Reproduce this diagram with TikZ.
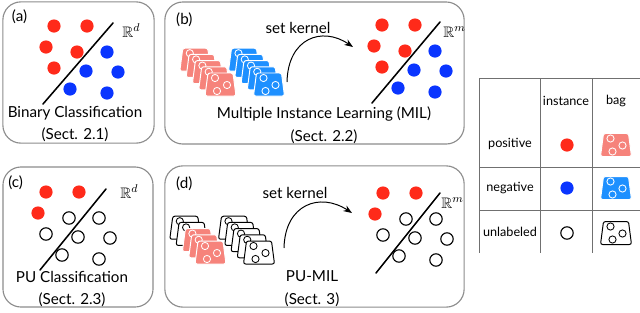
\documentclass[tikz,border=0pt]{standalone}
\usepackage{amssymb}
\usepackage{fontspec}
\setmainfont{Lato}
\usetikzlibrary{arrows.meta,positioning}
\definecolor{posred}{HTML}{FF2A1A}
\definecolor{negblue}{HTML}{0A35FF}
\definecolor{posbag}{HTML}{F6837B}
\definecolor{negbag}{HTML}{1E90FF}
\definecolor{framegray}{HTML}{8C8C8C}
\definecolor{tablegray}{HTML}{707070}

% one bag: centre, fill, edge colour
\newcommand{\drawbag}[3]{%
  \begin{scope}[shift={#1}]
    \draw[fill=#2, draw=#3, line width=0.7pt, rounded corners=1.5pt]
      (-12.5,-11.5) -- (12.5,-11.5) -- (15.5,11.5) -- (-15.5,11.5) -- cycle;
    \foreach \cx/\cy in {-5.5/-6.5, 6.5/0.5, -3.5/6.5}
      \draw[draw=#3, line width=0.6pt] (\cx,\cy) circle[radius=0.09cm];
  \end{scope}}

\begin{document}
\begin{tikzpicture}[
    x=0.025cm, y=-0.025cm,
    >=Stealth,
    font=\fontsize{10.8}{13}\selectfont,
    panel/.style={draw=framegray, line width=0.8pt, rounded corners=0.45cm},
    posdot/.style={circle, fill=posred, minimum size=0.33cm, inner sep=0pt},
    negdot/.style={circle, fill=negblue, minimum size=0.33cm, inner sep=0pt},
    unldot/.style={circle, draw=black, line width=0.8pt, fill=white,
        minimum size=0.31cm, inner sep=0pt},
    sepline/.style={line width=1.1pt, line cap=round},
    kernarrow/.style={->, line width=0.7pt},
    tabline/.style={draw=tablegray, line width=0.7pt},
    tabtext/.style={font=\fontsize{9}{11}\selectfont},
]
\useasboundingbox (0,0) rectangle (640,312);

% =====================================================
% Panels
% =====================================================
\node[panel, minimum width=3.78cm, minimum height=3.53cm] (pa) at (78.5,72.5) {};
\node[panel, minimum width=7.48cm, minimum height=3.55cm] (pb) at (314.5,73) {};
\node[panel, minimum width=3.75cm, minimum height=3.50cm] (pc) at (78,237) {};
\node[panel, minimum width=7.48cm, minimum height=3.53cm] (pd) at (314.5,236.5) {};

\node (taga) at ([xshift=0.43cm, yshift=-0.38cm]pa.north west) {(a)};
\node (tagb) at ([xshift=0.50cm, yshift=-0.45cm]pb.north west) {(b)};
\node (tagc) at ([xshift=0.33cm, yshift=-0.40cm]pc.north west) {(c)};
\node (tagd) at ([xshift=0.50cm, yshift=-0.45cm]pd.north west) {(d)};

\node[align=center] (tita) at (75,124) {Binary Classification\\[3pt](Sect. 2.1)};
\node[align=center] (titb) at (324,125) {Multiple Instance Learning (MIL)\\[3pt](Sect. 2.2)};
\node[align=center] (titc) at (72,289) {PU Classification\\[3pt](Sect. 2.3)};
\node[align=center] (titd) at (312,288.5) {PU-MIL\\[3pt](Sect. 3)};

% =====================================================
% (a) Binary classification
% =====================================================
\foreach \px/\py [count=\k] in {54/26, 87/26, 46/47, 77/52, 54/68}
  \node[posdot] (a-pos\k) at (\px,\py) {};
\foreach \px/\py [count=\k] in {107/52, 86/71, 118/72, 70/89, 107/93}
  \node[negdot] (a-neg\k) at (\px,\py) {};
\draw[sepline] (43,104) -- (113,23);
\node[anchor=base west, inner sep=0pt] (rda) at (122,37) {$\mathbb{R}^d$};

% =====================================================
% (b) MIL
% =====================================================
\foreach \s in {4,3,2,1,0}
  \drawbag{({220.5-6.3*\s},{84.5-6.2*\s})}{posbag}{white};
\foreach \s in {4,3,2,1,0}
  \drawbag{({269-6.25*\s},{84.5-6.2*\s})}{negbag}{white};

\coordinate (kb-from) at (287,82);
\coordinate (kb-to) at (353,47);
\draw[kernarrow] (kb-from) .. controls (288,38) and (322,26) .. (kb-to);
\node (skb) at (298,28) {set kernel};

\begin{scope}[shift={(328,-1)}]
  \foreach \px/\py [count=\k] in {54/26, 87/26, 46/47, 77/52, 54/68}
    \node[posdot] (b-pos\k) at (\px,\py) {};
  \foreach \px/\py [count=\k] in {107/52, 86/71, 118/72, 70/89, 107/93}
    \node[negdot] (b-neg\k) at (\px,\py) {};
\end{scope}
\draw[sepline] (372,103) -- (440,22);
\node[anchor=base west, inner sep=0pt] (rmb) at (443,37) {$\mathbb{R}^m$};

% =====================================================
% (c) PU classification
% =====================================================
\begin{scope}[shift={(-8,166)}]
  \foreach \px/\py [count=\k] in {54/26, 87/26, 46/47}
    \node[posdot] (c-pos\k) at (\px,\py) {};
  \foreach \px/\py [count=\k] in {77/52, 54/68, 107/52, 86/71, 118/72, 70/89, 107/93}
    \node[unldot] (c-unl\k) at (\px,\py) {};
\end{scope}
\draw[sepline] (40,270) -- (106,189);
\node[anchor=base west, inner sep=0pt] (rdc) at (120,198) {$\mathbb{R}^d$};

% =====================================================
% (d) PU-MIL
% =====================================================
\foreach \s/\bagfill/\bagedge in {4/white/black, 3/white/black,
    2/posbag/white, 1/posbag/white, 0/posbag/white}
  \drawbag{({210.5-6.3*\s},{252.5-6.2*\s})}{\bagfill}{\bagedge};
\foreach \s in {4,3,2,1,0}
  \drawbag{({259-6.25*\s},{252.5-6.2*\s})}{white}{black};

\coordinate (kd-from) at (284,248);
\coordinate (kd-to) at (352,213);
\draw[kernarrow] (kd-from) .. controls (285,204) and (320,192) .. (kd-to);
\node (skd) at (295,193) {set kernel};

\begin{scope}[shift={(329,167)}]
  \foreach \px/\py [count=\k] in {54/26, 87/26, 46/47}
    \node[posdot] (d-pos\k) at (\px,\py) {};
  \foreach \px/\py [count=\k] in {77/52, 54/68, 107/52, 86/71, 118/72, 70/89, 107/93}
    \node[unldot] (d-unl\k) at (\px,\py) {};
\end{scope}
\draw[sepline] (376,273) -- (440,193);
\node[anchor=base west, inner sep=0pt] (rmd) at (441,208) {$\mathbb{R}^m$};

% =====================================================
% Legend table
% =====================================================
\foreach \ry in {78,167,210}
  \draw[tabline] (479,\ry) -- (640,\ry);
\foreach \cx in {479,540,592}
  \draw[tabline] (\cx,78) -- (\cx,253);

\node[tabtext] (hinst) at (566,101) {instance};
\node[tabtext] (hbag) at (616,101) {bag};
\node[tabtext] (rpos) at (510,144) {positive};
\node[tabtext] (rneg) at (510,188) {negative};
\node[tabtext] (runl) at (510,232) {unlabeled};

\node[posdot] (ipos) at (567,145) {};
\node[negdot] (ineg) at (567,188) {};
\node[unldot] (iunl) at (567,233) {};

\drawbag{(616,145)}{posbag}{white};
\drawbag{(616,188)}{negbag}{white};
\drawbag{(616,233)}{white}{black};

\end{tikzpicture}
\end{document}
